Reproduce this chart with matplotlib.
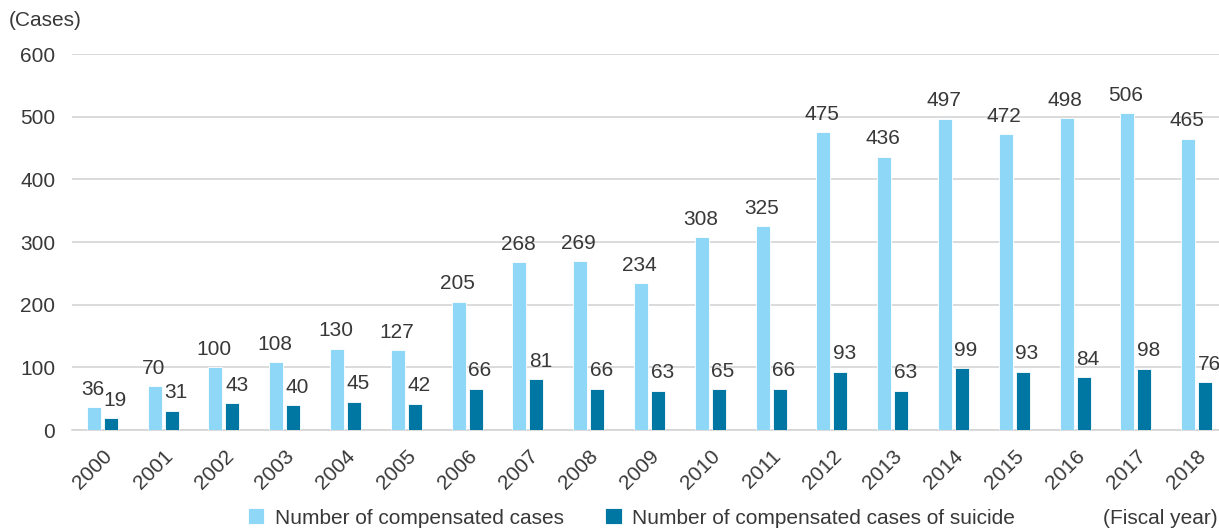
import matplotlib
matplotlib.use("Agg")
import matplotlib.pyplot as plt
import numpy as np

years = ["2000", "2001", "2002", "2003", "2004", "2005", "2006", "2007", "2008", "2009",
         "2010", "2011", "2012", "2013", "2014", "2015", "2016", "2017", "2018"]
compensated = [36, 70, 100, 108, 130, 127, 205, 268, 269, 234, 308, 325, 475, 436, 497, 472, 498, 506, 465]
suicide = [19, 31, 43, 40, 45, 42, 66, 81, 66, 63, 65, 66, 93, 63, 99, 93, 84, 98, 76]
yticks = [0, 100, 200, 300, 400, 500, 600]

plt.rcParams['font.family'] = ['Liberation Sans', 'DejaVu Sans']
text_color = '#383838'
light = '#8fd7f6'
dark = '#0076a2'

fig = plt.figure(figsize=(12.19, 5.28), dpi=100)
ax = fig.add_axes([72/1219, 98/528, (1227-72)/1219, (430-54)/528])

x = np.arange(len(years))
w = 0.23
off = 0.14
b1 = ax.bar(x - off, compensated, width=w, color=light, edgecolor='white', linewidth=0.6,
            label='Number of compensated cases', zorder=3)
b2 = ax.bar(x + off, suicide, width=w, color=dark, edgecolor='white', linewidth=0.6,
            label='Number of compensated cases of suicide', zorder=3)

for xi, v in zip(x - off, compensated):
    ax.annotate(str(v), (xi, v), xytext=(-1, 6), textcoords='offset points',
                ha='center', va='bottom', fontsize=15, color=text_color)
for xi, v in zip(x + off, suicide):
    ax.annotate(str(v), (xi, v), xytext=(3, 6), textcoords='offset points',
                ha='center', va='bottom', fontsize=15, color=text_color)

ax.set_xlim(-0.5, len(years) - 0.5)
ax.set_ylim(0, 600)
ax.set_yticks(yticks)
ax.set_yticklabels([str(t) for t in yticks], fontsize=15, color=text_color)
ax.yaxis.grid(True, color='#d4d4d4', linewidth=1.2, zorder=0)
ax.set_axisbelow(True)
ax.set_xticks(x)
ax.set_xticklabels(years, rotation=45, ha='right', va='top', rotation_mode='anchor',
                   fontsize=15, color=text_color)
ax.tick_params(axis='both', length=0)
ax.tick_params(axis='y', pad=12)
ax.tick_params(axis='x', pad=12)
for s in ['top', 'right', 'left']:
    ax.spines[s].set_visible(False)
ax.spines['bottom'].set_color('#d4d4d4')
ax.spines['bottom'].set_linewidth(1.2)

fig.text(9/1219, 1 - 21/528, '(Cases)', fontsize=15, color=text_color, ha='left', va='center')
fig.text(1218/1219, 10/528, '(Fiscal year)', fontsize=15, color=text_color, ha='right', va='center')

fig.legend(handles=[b1, b2], loc='center', bbox_to_anchor=(0.518, 10/528), ncol=2, frameon=False,
           fontsize=15, handlelength=0.8, handleheight=0.8, columnspacing=2.0, handletextpad=0.5,
           labelcolor=text_color)

fig.savefig('out.png', dpi=100)
